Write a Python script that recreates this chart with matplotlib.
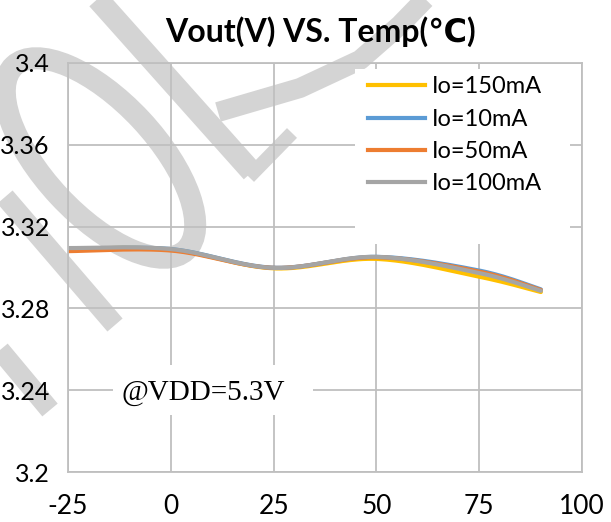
import matplotlib
matplotlib.use("Agg")
import matplotlib.pyplot as plt
import numpy as np
from matplotlib.lines import Line2D
from matplotlib.patches import Ellipse, Rectangle

# measured output voltage vs. ambient temperature
temps = [-25, 0, 25, 50, 75, 90]
vout_150ma = [3.3092, 3.3088, 3.2996, 3.3042, 3.2955, 3.2880]
vout_10ma = [3.3090, 3.3090, 3.2999, 3.3052, 3.2985, 3.2893]
vout_50ma = [3.3080, 3.3083, 3.2998, 3.3050, 3.2980, 3.2890]
vout_100ma = [3.3095, 3.3090, 3.2998, 3.3052, 3.2973, 3.2886]
series_labels = ["Io=150mA", "Io=10mA", "Io=50mA", "Io=100mA"]
series_colors = ["#FFC000", "#5B9BD5", "#ED7D31", "#A5A5A5"]

x_ticks = [-25, 0, 25, 50, 75, 100]
y_ticks = [3.2, 3.24, 3.28, 3.32, 3.36, 3.4]
y_tick_labels = ["3.2", "3.24", "3.28", "3.32", "3.36", "3.4"]

SANS = ["Lato", "DejaVu Sans"]
GRID = "#bfbfbf"
WM = "#d4d4d4"

plt.rcParams["axes.unicode_minus"] = False


def smooth(xs, ys, n=40):
    # cubic bezier through each point, control points from the neighbours
    pts = np.column_stack([xs, ys]).astype(float)
    ext = np.vstack([pts[0], pts, pts[-1]])
    t = np.linspace(0, 1, n)[:, None]
    out = []
    for i in range(len(pts) - 1):
        p0, p1 = ext[i + 1], ext[i + 2]
        c0 = p0 + (ext[i + 2] - ext[i]) / 6
        c1 = p1 - (ext[i + 3] - ext[i + 1]) / 6
        seg = (1 - t) ** 3 * p0 + 3 * (1 - t) ** 2 * t * c0 + 3 * (1 - t) * t ** 2 * c1 + t ** 3 * p1
        out.append(seg if i == 0 else seg[1:])
    curve = np.vstack(out)
    return curve[:, 0], curve[:, 1]


fig = plt.figure(figsize=(6.11, 5.22), dpi=100)

# background watermark, pixel coordinates (y down)
wm = fig.add_axes([0, 0, 1, 1], zorder=-1)
wm.set_xlim(0, 611)
wm.set_ylim(522, 0)
wm.axis("off")
px = 0.72  # points per pixel
wm.add_patch(Ellipse((100, 158), 252, 112, angle=47, fill=False, ec=WM, lw=22 * px))
strokes = [
    ([94, 252], [-5, 172], 22),
    ([249, 292], [177, 133], 14),
    ([218, 300, 360, 400, 432], [112, 88, 60, 25, -8], 20),
    ([5, 115], [197, 325], 20),
    ([0, 50], [350, 410], 20),
]
for xs, ys, w in strokes:
    wm.plot(xs, ys, color=WM, lw=w * px, solid_capstyle="butt")

ax = fig.add_axes([68 / 611, 1 - 472 / 522, 514 / 611, 409 / 522])
ax.set_facecolor("none")

all_series = [vout_150ma, vout_10ma, vout_50ma, vout_100ma]
for vals, color, label in zip(all_series, series_colors, series_labels):
    sx, sy = smooth(temps, vals)
    ax.plot(sx, sy, color=color, lw=3.0, label=label, zorder=2, solid_capstyle="round")

ax.set_xlim(-25, 100)
ax.set_ylim(3.2, 3.4)
ax.set_xticks(x_ticks)
ax.set_yticks(y_ticks)
ax.set_yticklabels(y_tick_labels)
ax.set_axisbelow(True)
ax.grid(True, color=GRID, lw=1.3)
for sp in ax.spines.values():
    sp.set_color(GRID)
    sp.set_linewidth(1.3)
ax.tick_params(length=0)
ax.tick_params(axis="y", pad=13, labelsize=18)
ax.tick_params(axis="x", pad=16, labelsize=19)
for lab in ax.get_xticklabels() + ax.get_yticklabels():
    lab.set_family(SANS)

# white areas behind the legend and the supply note
ax.add_patch(Rectangle((44.8, 3.3115), 52.3, 0.0855, fc="white", ec="none", zorder=1))
ax.add_patch(Rectangle((-14.05, 3.2279), 48.65, 0.0244, fc="white", ec="none", zorder=1))
ax.text(7.8, 3.2387, "@VDD=5.3V", ha="center", va="center", fontsize=21,
        family="Liberation Serif", zorder=3)

handles = [Line2D([], [], color=c, lw=3.0) for c in series_colors]
leg = ax.legend(handles, series_labels, loc="upper left", bbox_to_anchor=(0.5837, 0.967),
                frameon=False, handlelength=2.4, handletextpad=0.3, labelspacing=0.48,
                borderpad=0, borderaxespad=0, prop={"family": SANS, "size": 17})

fig.text(320 / 611, 1 - 32 / 522, "Vout(V) VS. Temp(\u2103)", ha="center", va="center",
         fontsize=23, fontweight="bold", family=SANS)

fig.savefig("out.png", dpi=100)
